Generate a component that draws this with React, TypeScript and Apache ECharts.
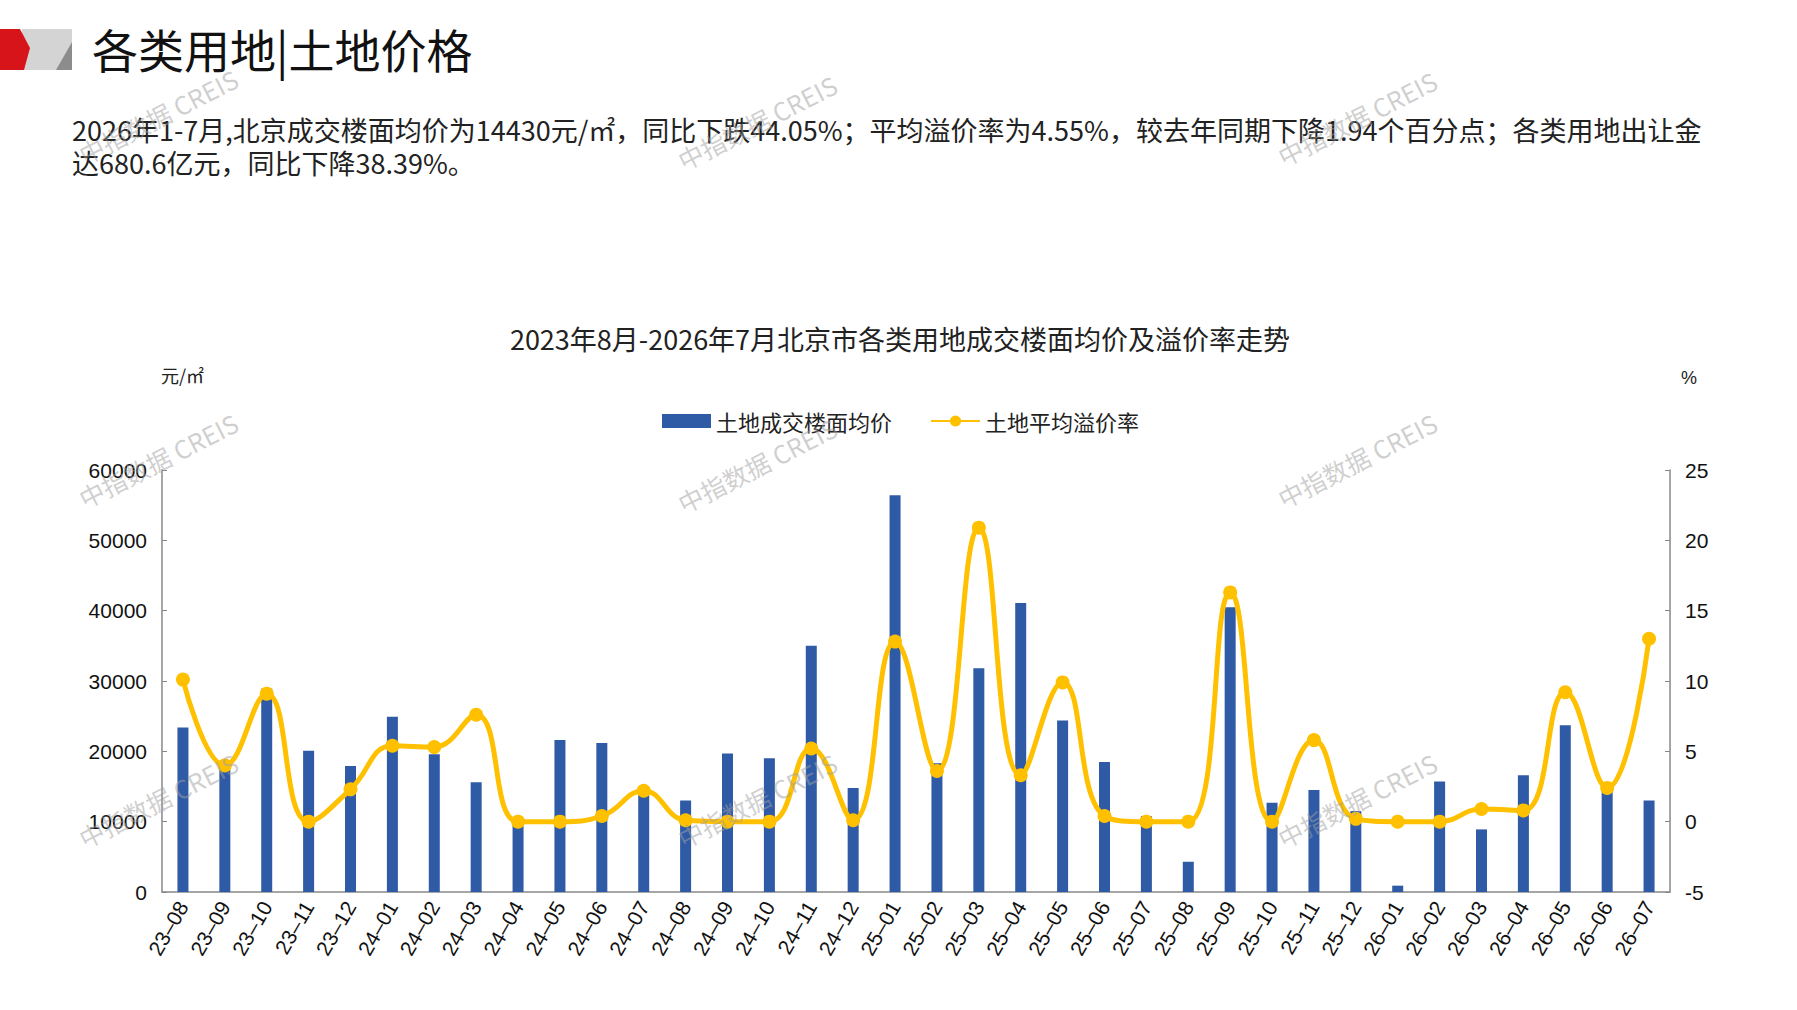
import React, { useEffect, useRef } from "react";
import * as echarts from "echarts";

const categories = [
  "23–08","23–09","23–10","23–11","23–12",
  "24–01","24–02","24–03","24–04","24–05","24–06","24–07","24–08","24–09","24–10","24–11","24–12",
  "25–01","25–02","25–03","25–04","25–05","25–06","25–07","25–08","25–09","25–10","25–11","25–12",
  "26–01","26–02","26–03","26–04","26–05","26–06","26–07",
];

const landPrice = [
  23400, 18200, 28900, 20100, 17900,
  24900, 19600, 15600, 10200, 21600, 21200, 14200, 13000, 19700, 19000, 35000, 14800,
  56400, 18300, 31800, 41100, 24400, 18500, 10800, 4300, 40500, 12700, 14500, 11500,
  900, 15700, 8900, 16600, 23700, 14500, 13000,
];

const premiumRate = [
  10.1, 4.0, 9.1, 0.0, 2.3,
  5.4, 5.3, 7.6, 0.0, 0.0, 0.4, 2.2, 0.1, 0.0, 0.0, 5.2, 0.1,
  12.8, 3.6, 20.9, 3.3, 9.9, 0.4, 0.0, 0.0, 16.3, 0.0, 5.8, 0.2,
  0.0, 0.0, 0.9, 0.8, 9.2, 2.4, 13.0,
];

const seriesNames = ["土地成交楼面均价", "土地平均溢价率"];
const pageTitle = "各类用地|土地价格";
const paragraphLines = [
  "2026年1-7月,北京成交楼面均价为14430元/㎡，同比下跌44.05%；平均溢价率为4.55%，较去年同期下降1.94个百分点；各类用地出让金",
  "达680.6亿元，同比下降38.39%。",
];
const chartTitle = "2023年8月-2026年7月北京市各类用地成交楼面均价及溢价率走势";
const leftUnit = "元/㎡";
const rightUnit = "%";
const watermark = "中指数据 CREIS";

const CJK = '"Noto Sans CJK SC", "Noto Sans", sans-serif';
const LATIN = '"Liberation Sans", Arial, sans-serif';

export default function App() {
  const ref = useRef<HTMLDivElement>(null);

  useEffect(() => {
    document.body.style.margin = "0";
    const chart = echarts.init(ref.current!, null, { renderer: "svg" });

    const wmPositions = [
      [158, 116], [757, 122], [1357, 118],
      [158, 460], [757, 465], [1357, 460],
      [158, 800], [757, 800], [1357, 800],
    ];

    const graphics: any[] = [
      // header logo
      { type: "polygon", shape: { points: [[22, 29], [72, 29], [72, 70], [22, 70]] }, style: { fill: "#d4d4d4" } },
      { type: "polygon", shape: { points: [[72, 42], [72, 70], [56, 70]] }, style: { fill: "#8c8c8c" } },
      { type: "polygon", shape: { points: [[0, 29], [20, 29], [30, 48], [24, 70], [0, 70]] }, style: { fill: "#d7141a" } },
      {
        type: "text", x: 92, y: 48,
        style: { text: pageTitle, font: `46px ${CJK}`, fill: "#111", textVerticalAlign: "middle" },
      },
      ...paragraphLines.map((t, i) => ({
        type: "text", x: 72, y: 129 + i * 33,
        style: { text: t, font: `27px ${CJK}`, fill: "#222", textVerticalAlign: "middle" },
      })),
      {
        type: "text", x: 900, y: 338,
        style: { text: chartTitle, font: `27px ${CJK}`, fill: "#222", textAlign: "center", textVerticalAlign: "middle" },
      },
      {
        type: "text", x: 161, y: 375,
        style: { text: leftUnit, font: `18px ${CJK}`, fill: "#222", textVerticalAlign: "middle" },
      },
      {
        type: "text", x: 1681, y: 378,
        style: { text: rightUnit, font: `18px ${LATIN}`, fill: "#222", textVerticalAlign: "middle" },
      },
      ...wmPositions.map(([x, y]) => ({
        type: "text", x, y, rotation: 0.47, z: 100,
        style: {
          text: watermark, font: `25px ${CJK}`, fill: "rgba(160,160,160,0.5)",
          textAlign: "center", textVerticalAlign: "middle",
        },
      })),
    ];

    chart.setOption({
      animation: false,
      backgroundColor: "#ffffff",
      graphic: graphics,
      legend: {
        left: 657, top: 405,
        itemWidth: 49, itemHeight: 14, itemGap: 38,
        textStyle: { fontFamily: CJK, fontSize: 22, color: "#222" },
        data: [
          { name: seriesNames[0], icon: "rect" },
          { name: seriesNames[1] },
        ],
      },
      grid: { left: 162, right: 127, top: 470, bottom: 118, containLabel: false },
      xAxis: {
        type: "category",
        data: categories,
        axisLine: { lineStyle: { color: "#888", width: 1.5 } },
        axisTick: { inside: true, length: 5, lineStyle: { color: "#888" } },
        axisLabel: { rotate: 60, fontFamily: LATIN, fontSize: 21, color: "#111", margin: 11, interval: 0 },
      },
      yAxis: [
        {
          type: "value", min: 0, max: 60000, interval: 10000,
          axisLine: { show: true, lineStyle: { color: "#888", width: 1.5 } },
          axisTick: { show: true, inside: true, length: 5, lineStyle: { color: "#888" } },
          splitLine: { show: false },
          axisLabel: { fontFamily: LATIN, fontSize: 21, color: "#111", margin: 15, formatter: (v: number) => String(v) },
        },
        {
          type: "value", min: -5, max: 25, interval: 5,
          axisLine: { show: true, lineStyle: { color: "#888", width: 1.5 } },
          axisTick: { show: true, inside: true, length: 5, lineStyle: { color: "#888" } },
          splitLine: { show: false },
          axisLabel: { fontFamily: LATIN, fontSize: 21, color: "#111", margin: 15 },
        },
      ],
      series: [
        {
          name: seriesNames[0], type: "bar", yAxisIndex: 0,
          data: landPrice, barWidth: 11,
          itemStyle: { color: "#2F5AA6" },
        },
        {
          name: seriesNames[1], type: "line", yAxisIndex: 1,
          data: premiumRate, smooth: 0.45,
          symbol: "circle", symbolSize: 14,
          lineStyle: { color: "#FFC000", width: 5 },
          itemStyle: { color: "#FFC000" },
        },
      ],
    });

    return () => chart.dispose();
  }, []);

  return (
    <div
      ref={ref}
      style={{ position: "absolute", left: 0, top: 0, width: 1797, height: 1010 }}
    />
  );
}
